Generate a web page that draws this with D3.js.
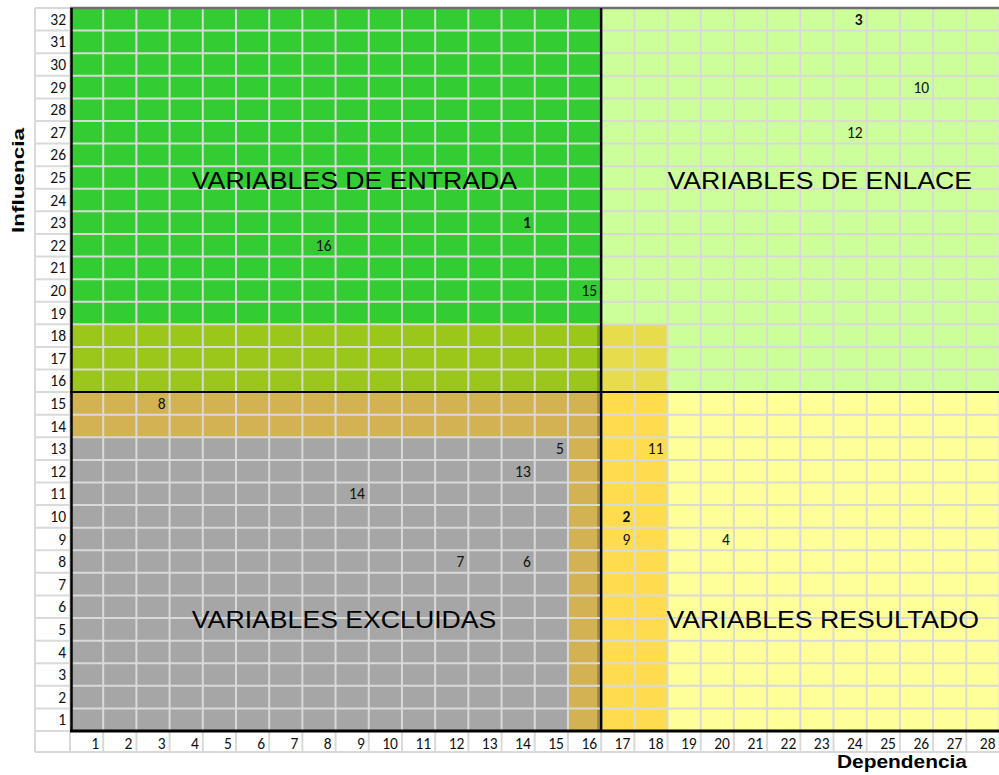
<!DOCTYPE html>
<html>
<head>
<meta charset="utf-8">
<script src="https://cdn.jsdelivr.net/npm/d3@7/dist/d3.min.js"></script>
<style>
  html, body { margin: 0; padding: 0; background: #ffffff; }
  svg { display: block; }
</style>
</head>
<body>
<svg id="chart" width="999" height="775"></svg>
<script>
// Axis tick labels
const dependenciaTicks = [1, 2, 3, 4, 5, 6, 7, 8, 9, 10, 11, 12, 13, 14, 15, 16, 17, 18, 19, 20, 21, 22, 23, 24, 25, 26, 27, 28];
const influenciaTicks = [1, 2, 3, 4, 5, 6, 7, 8, 9, 10, 11, 12, 13, 14, 15, 16, 17, 18, 19, 20, 21, 22, 23, 24, 25, 26, 27, 28, 29, 30, 31, 32];

// Variables and their (dependencia, influencia) scores
const variables   = ["1", "2", "3", "4", "5", "6", "7", "8", "9", "10", "11", "12", "13", "14", "15", "16"];
const dependencia = [14, 17, 24, 20, 15, 14, 12, 3, 17, 26, 18, 24, 14, 9, 16, 8];
const influencia  = [23, 10, 32, 9, 13, 8, 8, 15, 9, 29, 13, 27, 12, 11, 20, 22];
const destacadas  = ["1", "2", "3"];

// Zones of the plane, in score units
const zonas = [
  { nombre: "entrada",      dep: [0, 16],  inf: [18, 32] },
  { nombre: "entradaBaja",  dep: [0, 16],  inf: [15, 18] },
  { nombre: "limite",       dep: [0, 16],  inf: [13, 15] },
  { nombre: "limiteCol",    dep: [15, 16], inf: [0, 13] },
  { nombre: "excluidas",    dep: [0, 15],  inf: [0, 13] },
  { nombre: "enlace",       dep: [16, 28], inf: [18, 32] },
  { nombre: "enlaceBajo",   dep: [18, 28], inf: [15, 18] },
  { nombre: "transicion",   dep: [16, 18], inf: [15, 18] },
  { nombre: "resultadoCol", dep: [16, 18], inf: [0, 15] },
  { nombre: "resultado",    dep: [18, 28], inf: [0, 15] }
];

// Quadrant titles
const cuadrantes = ["VARIABLES DE ENTRADA", "VARIABLES DE ENLACE", "VARIABLES EXCLUIDAS", "VARIABLES RESULTADO"];
const cuadranteDep = [3.67, 18.0, 3.67, 17.97];
const cuadranteInf = [24.0, 24.0, 4.55, 4.55];

// Zone fill colours
const colorZona = {
  entrada: "#33cc33",
  entradaBaja: "#9bc71b",
  limite: "#d3b254",
  limiteCol: "#d3b254",
  excluidas: "#a6a6a6",
  enlace: "#ccff99",
  enlaceBajo: "#ccff99",
  transicion: "#e6dc4c",
  resultadoCol: "#ffdc4e",
  resultado: "#ffff99"
};

const svg = d3.select("#chart");
const x = d3.scaleLinear().domain([0, 28]).range([70, 999.5]);
const y = d3.scaleLinear().domain([0, 32]).range([731, 8]);
const headerLeft = 35;
const axisRowBottom = 752;
const gridColor = "#d9d9d9";
const numFont = "Carlito, Calibri, 'Open Sans', sans-serif";
const numSize = 15.5;

// Zone fills
svg.append("g").selectAll("rect").data(zonas).join("rect")
  .attr("x", d => x(d.dep[0]))
  .attr("y", d => y(d.inf[1]))
  .attr("width", d => x(d.dep[1]) - x(d.dep[0]))
  .attr("height", d => y(d.inf[0]) - y(d.inf[1]))
  .attr("fill", d => colorZona[d.nombre]);

// Shadow strip along the dividing column
svg.append("rect")
  .attr("x", x(16) - 4).attr("y", y(18))
  .attr("width", 4).attr("height", y(0) - y(18))
  .attr("fill", "#000").attr("fill-opacity", 0.22);

// Cell grid
const grid = svg.append("g").attr("stroke", gridColor).attr("stroke-width", 2);
grid.selectAll("line.v").data(d3.range(0, 29)).join("line")
  .attr("class", "v")
  .attr("x1", d => x(d)).attr("x2", d => x(d))
  .attr("y1", y(32)).attr("y2", axisRowBottom);
grid.selectAll("line.h").data(d3.range(0, 33)).join("line")
  .attr("class", "h")
  .attr("x1", headerLeft).attr("x2", x(28))
  .attr("y1", d => y(d)).attr("y2", d => y(d));
grid.append("line")
  .attr("x1", headerLeft).attr("x2", headerLeft)
  .attr("y1", y(32)).attr("y2", axisRowBottom);
grid.append("line")
  .attr("x1", headerLeft).attr("x2", x(28))
  .attr("y1", axisRowBottom).attr("y2", axisRowBottom);

// Frame and dividing lines
svg.append("line")
  .attr("x1", x(0)).attr("x2", x(28)).attr("y1", y(32)).attr("y2", y(32))
  .attr("stroke", "#6f6f6f").attr("stroke-width", 2.5);
svg.append("line")
  .attr("x1", x(0) + 1.5).attr("x2", x(0) + 1.5).attr("y1", y(32)).attr("y2", y(0))
  .attr("stroke", "#000").attr("stroke-width", 2.5);
svg.append("line")
  .attr("x1", x(0)).attr("x2", x(28)).attr("y1", y(0)).attr("y2", y(0))
  .attr("stroke", "#000").attr("stroke-width", 3);
svg.append("line")
  .attr("x1", x(16)).attr("x2", x(16)).attr("y1", y(32)).attr("y2", y(0))
  .attr("stroke", "#000").attr("stroke-width", 2.5);
svg.append("line")
  .attr("x1", x(0)).attr("x2", x(28)).attr("y1", y(15)).attr("y2", y(15))
  .attr("stroke", "#000").attr("stroke-width", 2);

// Row (influencia) labels
svg.append("g").selectAll("text").data(influenciaTicks).join("text")
  .attr("x", x(0) - 4)
  .attr("y", d => y(d - 0.5))
  .attr("dy", "0.36em")
  .attr("text-anchor", "end")
  .attr("font-family", numFont)
  .attr("font-size", numSize)
  .attr("fill", "#111")
  .text(d => d);

// Column (dependencia) labels
svg.append("g").selectAll("text").data(dependenciaTicks).join("text")
  .attr("x", d => x(d) - 4)
  .attr("y", (y(0) + axisRowBottom) / 2 + 1.5)
  .attr("dy", "0.36em")
  .attr("text-anchor", "end")
  .attr("font-family", numFont)
  .attr("font-size", numSize)
  .attr("fill", "#111")
  .text(d => d);

// Quadrant titles
const qt = svg.append("g").selectAll("text").data(cuadrantes).join("text")
  .attr("x", (d, i) => x(cuadranteDep[i]))
  .attr("y", (d, i) => y(cuadranteInf[i]))
  .attr("font-family", "'Liberation Sans', Arial, sans-serif")
  .attr("font-size", 24)
  .attr("fill", "#000")
  .text(d => d);
qt.each(function () {
  const w = this.getComputedTextLength();
  d3.select(this).attr("textLength", w * 1.11).attr("lengthAdjust", "spacingAndGlyphs");
});

// Variable labels
svg.append("g").selectAll("text").data(variables).join("text")
  .attr("x", (d, i) => x(dependencia[i]) - 4)
  .attr("y", (d, i) => y(influencia[i] - 0.5))
  .attr("dy", "0.36em")
  .attr("text-anchor", "end")
  .attr("font-family", numFont)
  .attr("font-size", numSize)
  .attr("font-weight", d => destacadas.includes(d) ? "bold" : "normal")
  .attr("fill", "#111")
  .text(d => d);

// Axis titles
svg.append("text")
  .attr("transform", `translate(23.5, ${(128 + 233) / 2}) rotate(-90)`)
  .attr("text-anchor", "middle")
  .attr("font-family", "'Liberation Sans', Arial, sans-serif")
  .attr("font-weight", "bold")
  .attr("font-size", 17)
  .attr("textLength", 105)
  .attr("lengthAdjust", "spacingAndGlyphs")
  .text("Influencia");
svg.append("text")
  .attr("x", 902)
  .attr("y", 768)
  .attr("text-anchor", "middle")
  .attr("font-family", "'Liberation Sans', Arial, sans-serif")
  .attr("font-weight", "bold")
  .attr("font-size", 18)
  .attr("textLength", 130)
  .attr("lengthAdjust", "spacingAndGlyphs")
  .text("Dependencia");
</script>
</body>
</html>
